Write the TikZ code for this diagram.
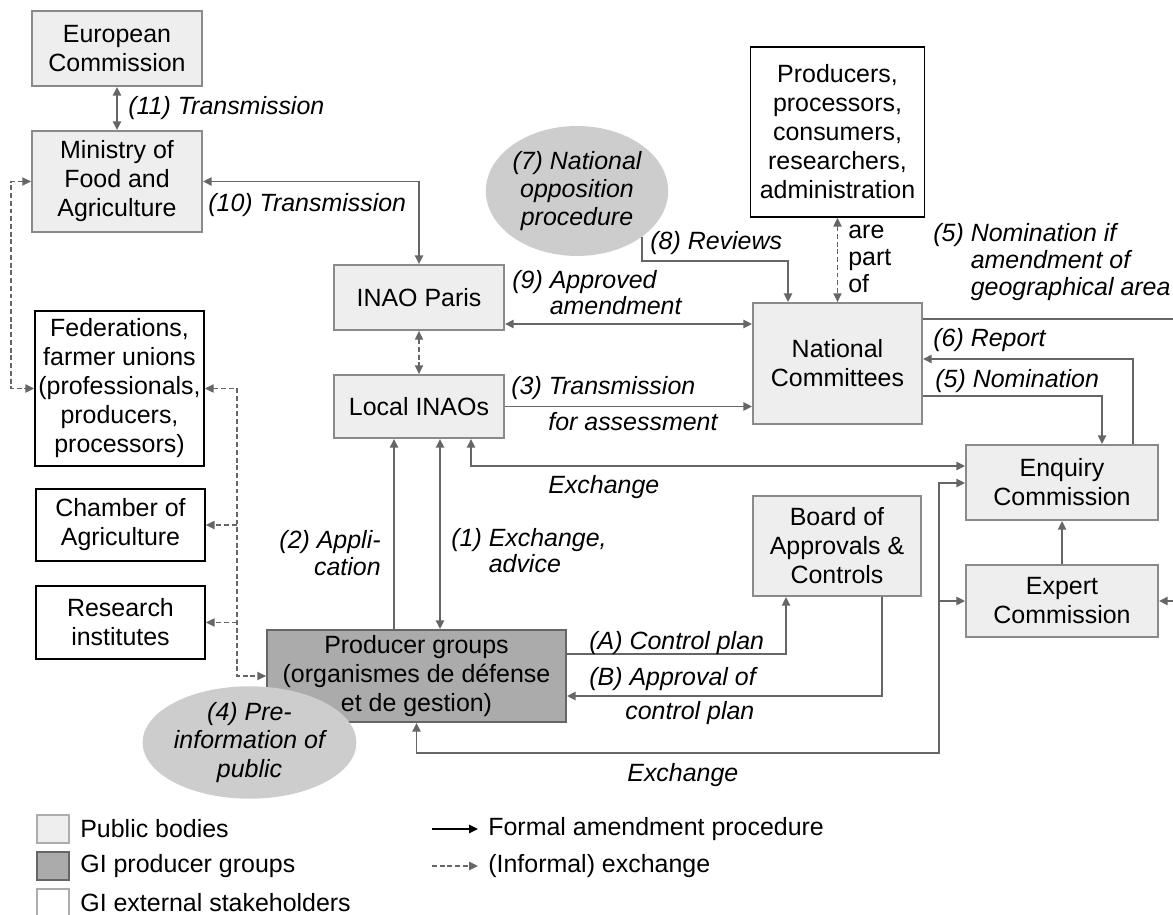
\documentclass[tikz,border=0pt]{standalone}
\usepackage{fontspec}
\setmainfont{Liberation Sans}
\usetikzlibrary{arrows.meta,shapes.geometric,calc}
\definecolor{pubGray}{HTML}{EEEEEE}
\definecolor{grpGray}{HTML}{ABABAB}
\definecolor{oppGray}{HTML}{CDCDCD}
\definecolor{lineGray}{HTML}{666666}
\definecolor{edgeGray}{HTML}{8A8A8A}

\begin{document}
\begin{tikzpicture}[x=0.02cm, y=-0.02cm,
  every node/.style={font=\fontsize{14.2pt}{16.5pt}\selectfont, inner sep=0pt},
  pub/.style={draw=edgeGray, fill=pubGray, line width=1pt, align=center},
  grp/.style={draw=lineGray, fill=grpGray, line width=1pt, align=center},
  ext/.style={draw=black, fill=white, line width=0.9pt, align=center},
  opp/.style={ellipse, fill=oppGray, align=center, font=\fontsize{14.2pt}{16pt}\selectfont\itshape},
  lbl/.style={font=\fontsize{14.2pt}{15.2pt}\selectfont\itshape},
  arr/.style={draw=lineGray, line width=1.1pt, >={Triangle[length=5pt,width=4.6pt]}},
  dsh/.style={arr, line width=0.9pt, dash pattern=on 2.8pt off 1.6pt}]
  \useasboundingbox (0,0) rectangle (1173,915);

  % Public bodies and stakeholders
  \node[pub, minimum width=3.4cm, minimum height=1.5cm] (euc) at (117,48.5) {European\\Commission};
  \node[pub, minimum width=3.4cm, minimum height=2.02cm] (min) at (117,181.5) {Ministry of\\Food and\\Agriculture};
  \node[ext, minimum width=3.38cm, minimum height=3.1cm] (fed) at (119.5,388.5)
    {Federations,\\farmer unions\\(professionals,\\producers,\\processors)};
  \node[ext, minimum width=3.38cm, minimum height=1.44cm] (cha) at (120.5,525) {Chamber of\\Agriculture};
  \node[ext, minimum width=3.38cm, minimum height=1.46cm] (res) at (120.5,622.5) {Research\\institutes};
  \node[pub, minimum width=3.4cm, minimum height=1.3cm] (par) at (419,297.5) {INAO Paris};
  \node[pub, minimum width=3.4cm, minimum height=1.26cm] (loc) at (419,406.5) {Local INAOs};
  \node[ext, minimum width=3.48cm, minimum height=3.4cm] (stk) at (837.5,132)
    {Producers,\\processors,\\consumers,\\researchers,\\administration};
  \node[pub, minimum width=3.38cm, minimum height=2.42cm] (nat) at (837.5,363.5) {National\\Committees};
  \node[pub, minimum width=3.84cm, minimum height=1.5cm] (enq) at (1062,482.5) {Enquiry\\Commission};
  \node[pub, minimum width=3.84cm, minimum height=1.44cm] (exp) at (1062,601) {Expert\\Commission};
  \node[pub, minimum width=3.36cm, minimum height=2.0cm] (boa) at (837,546) {Board of\\Approvals \&\\Controls};
  \node[grp, minimum width=5.98cm, minimum height=1.84cm] (pgr) at (416.5,676)
    {Producer groups\\(organismes de défense\\et de gestion)};
  \node[opp, minimum width=3.6cm, minimum height=2.6cm] (opp) at (577,191) {(7) National\\opposition\\procedure};
  \node[opp, minimum width=3.78cm, minimum height=1.98cm] (pre) at (249.5,742.5) {(4) Pre-\\information of\\public};

  % Formal procedure
  \draw[arr,<->] (euc) -- (min);
  \draw[arr,<->] (min.east) -| (par.north);
  \draw[arr,<->] (par.east |- 0,324) -- (nat.west |- 0,324);
  \draw[arr,->] (loc.east) -- (nat.west |- loc.east);
  \coordinate (rv) at (788,261);
  \draw[arr,->] (opp.-35.5) |- (rv) -- (rv |- nat.north);
  \draw[arr,->] (nat.east |- 0,319) -- (1190,319) |- (exp.east);
  \draw[arr,->] (enq.north -| 1133,0) |- (nat.east |- 0,359);
  \draw[arr,->] (nat.east |- 0,396) -| (enq.north -| 1102,0);
  \draw[arr,->] (exp) -- (enq);
  \draw[arr,<->] (loc.south -| 471,0) |- (enq.west |- 0,466);
  \draw[arr,->] (pgr.north -| 394,0) -- (loc.south -| 394,0);
  \draw[arr,<->] (loc.south -| 440,0) -- (pgr.north -| 440,0);
  \draw[arr,->] (pgr.east |- 0,654) -| (boa.south -| 786,0);
  \draw[arr,->] (boa.south -| 882,0) |- (pgr.east |- 0,696);
  \coordinate (exb) at (939,753);
  \draw[arr,<->] (pgr.south) |- (exb) |- (enq.west |- 0,483);
  \draw[arr,->] (exb |- exp.west) -- (exp.west);

  % Informal exchange
  \draw[dsh,<->] (par) -- (loc);
  \draw[dsh,<->] (stk) -- (nat);
  \draw[dsh,<->] (min.west) -- ++(-20,0) |- (fed.west);
  \draw[dsh,<->] (fed.east) -- ++(32,0) coordinate (dv) |- (pgr.west);
  \draw[dsh,->] (dv |- cha.east) -- (cha.east);
  \draw[dsh,->] (dv |- res.east) -- (res.east);

  % Labels
  \node[lbl, anchor=west] (l11) at (128,108) {(11) Transmission};
  \node[lbl, anchor=west] (l10) at (208,205) {(10) Transmission};
  \node[lbl, anchor=west, align=left] (l9) at (512,295) {(9) Approved\\\phantom{(9) }amendment};
  \node[lbl, anchor=west] (l8) at (650,243) {(8) Reviews};
  \node[anchor=west, align=left, font=\fontsize{14.2pt}{15.2pt}\selectfont] (lpt) at (848,259) {are\\part\\of};
  \node[lbl, anchor=west, align=left] (l5a) at (933,262)
    {(5) Nomination if\\\phantom{(5) }amendment of\\\phantom{(5) }geographical area};
  \node[lbl, anchor=west] (l6) at (933,340) {(6) Report};
  \node[lbl, anchor=west] (l5b) at (935,381) {(5) Nomination};
  \node[lbl, anchor=west] (l3a) at (511,388) {(3) Transmission};
  \node[lbl, anchor=west] (l3b) at (548,422) {for assessment};
  \node[lbl, anchor=west] (lx1) at (548,487) {Exchange};
  \node[lbl, anchor=east, align=right] (l2) at (381,553) {(2) Appli-\\cation};
  \node[lbl, anchor=west, align=left] (l1) at (451,553) {(1) Exchange,\\\phantom{(1) }advice};
  \node[lbl, anchor=west] (lA) at (589,643) {(A) Control plan};
  \node[lbl, anchor=west] (lB1) at (589,679) {(B) Approval of};
  \node[lbl, anchor=west] (lB2) at (625,713) {control plan};
  \node[lbl, anchor=west] (lx2) at (627,775) {Exchange};

  % Legend
  \node[pub, draw=edgeGray!70, minimum width=0.64cm, minimum height=0.56cm] (lg1) at (53,829) {};
  \node[grp, minimum width=0.64cm, minimum height=0.56cm] (lg2) at (53,866) {};
  \node[ext, draw=edgeGray!70, minimum width=0.64cm, minimum height=0.56cm] (lg3) at (53,903) {};
  \node[anchor=west] (lt1) at (80,829) {Public bodies};
  \node[anchor=west] (lt2) at (80,866) {GI producer groups};
  \node[anchor=west] (lt3) at (80,903) {GI external stakeholders};
  \node[anchor=west] (lt4) at (488,829) {Formal amendment procedure};
  \node[anchor=west] (lt5) at (488,866) {(Informal) exchange};
  \draw[arr,->,draw=black,line width=0.9pt] ([xshift=-1.12cm]lt4.west) -- ([xshift=-0.2cm]lt4.west);
  \draw[dsh,->] ([xshift=-1.12cm]lt5.west) -- ([xshift=-0.2cm]lt5.west);
\end{tikzpicture}
\end{document}
